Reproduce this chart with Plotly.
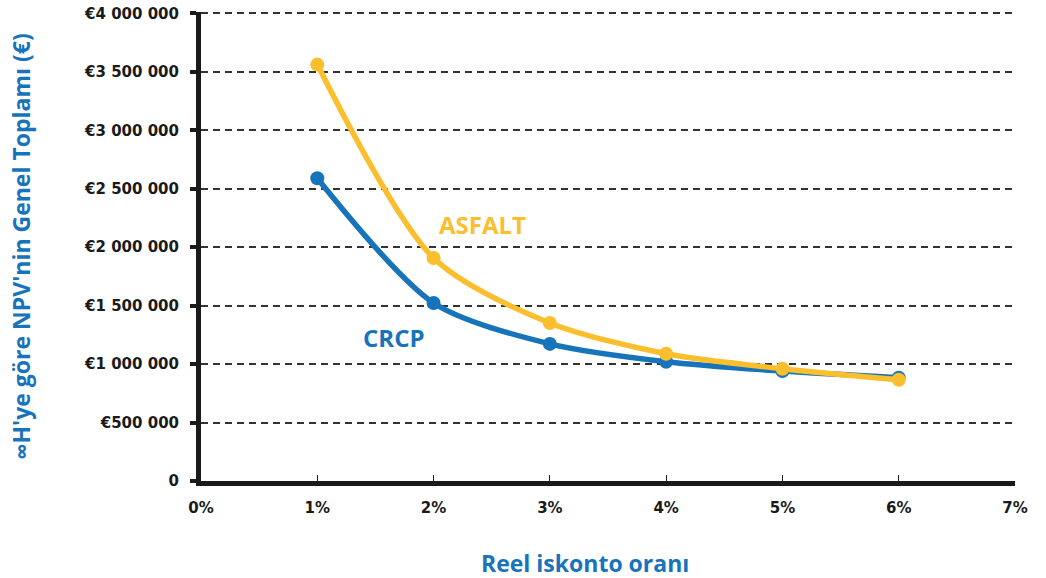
import plotly.graph_objects as go

rates = [1, 2, 3, 4, 5, 6]
crcp = [2590000, 1523000, 1173000, 1020000, 940000, 883000]
asfalt = [3562000, 1907000, 1352000, 1088000, 960000, 866000]

y_tickvals = [0, 500000, 1000000, 1500000, 2000000, 2500000, 3000000, 3500000, 4000000]
y_ticktext = ["0", "€500 000", "€1 000 000", "€1 500 000", "€2 000 000",
              "€2 500 000", "€3 000 000", "€3 500 000", "€4 000 000"]
x_tickvals = [0, 1, 2, 3, 4, 5, 6, 7]
x_ticktext = ["0%", "1%", "2%", "3%", "4%", "5%", "6%", "7%"]

BLUE = "#1774BB"
YELLOW = "#FBBF2E"
FONT = "Open Sans"
TICKFONT = "DejaVu Sans"

fig = go.Figure()
fig.add_trace(go.Scatter(x=rates, y=crcp, mode="lines+markers", name="CRCP",
                         line=dict(color=BLUE, width=5.5, shape="spline", smoothing=0.8),
                         marker=dict(color=BLUE, size=14)))
fig.add_trace(go.Scatter(x=rates, y=asfalt, mode="lines+markers", name="ASFALT",
                         line=dict(color=YELLOW, width=5.5, shape="spline", smoothing=0.8),
                         marker=dict(color=YELLOW, size=14)))

fig.add_annotation(x=2.42, y=2190000, text="<b>ASFALT</b>", showarrow=False,
                   font=dict(family=FONT, size=24, color=YELLOW))
fig.add_annotation(x=1.66, y=1224000, text="<b>CRCP</b>", showarrow=False,
                   font=dict(family=FONT, size=24, color=BLUE))
# x-axis title, placed slightly left of the plot centre as in the reference
fig.add_annotation(xref="paper", yref="paper", x=0.472, y=-0.175, yanchor="middle",
                   text="<b>Reel iskonto oranı</b>", showarrow=False,
                   font=dict(family=FONT, size=23, color=BLUE))

fig.update_layout(
    width=1046, height=578,
    margin=dict(l=201, r=31, t=12, b=97),
    paper_bgcolor="white", plot_bgcolor="white",
    showlegend=False,
    font=dict(family=FONT, color="#1a1a1a"),
    xaxis=dict(
        range=[0, 7], tickvals=x_tickvals, ticktext=x_ticktext,
        showgrid=False, zeroline=False, automargin=False,
        showline=True, linewidth=5, linecolor="#1a1a1a",
        ticks="inside", ticklen=6, tickwidth=1, tickcolor="#1a1a1a",
        tickfont=dict(family=TICKFONT, size=15, color="#1a1a1a", weight="bold"),
        ticklabelstandoff=9,
    ),
    yaxis=dict(
        range=[0, 4012000], tickvals=y_tickvals, ticktext=y_ticktext,
        showgrid=True, gridcolor="#333333", gridwidth=1.5, griddash="7px,5px",
        zeroline=False, automargin=False,
        showline=True, linewidth=5, linecolor="#1a1a1a",
        ticks="outside", ticklen=6, tickwidth=4, tickcolor="#1a1a1a",
        tickfont=dict(family=TICKFONT, size=15, color="#1a1a1a", weight="bold"),
        ticklabelstandoff=8,
        title=dict(text="<b>∞H'ye göre NPV'nin Genel Toplamı (€)</b>", standoff=48,
                   font=dict(family=FONT, size=23, color=BLUE)),
    ),
)

fig.write_html("out.html")
